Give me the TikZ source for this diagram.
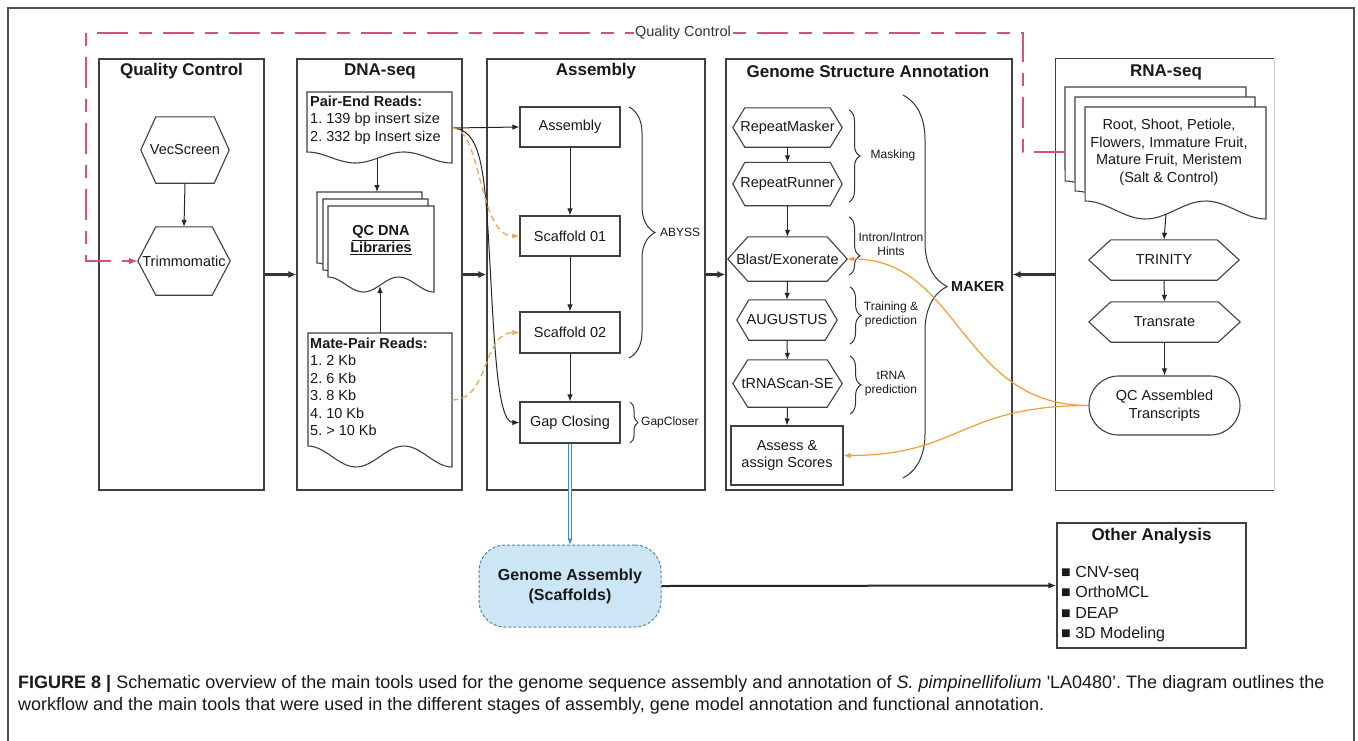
\documentclass[tikz,border=0pt]{standalone}
\usepackage{fontspec}
\setmainfont{Liberation Sans}
\usetikzlibrary{arrows.meta,calc,decorations.pathreplacing,shapes.misc}
\definecolor{pinkq}{RGB}{214,80,126}
\definecolor{orangeA}{RGB}{240,160,50}
\definecolor{orangeD}{RGB}{234,168,85}
\definecolor{blueL}{RGB}{58,140,205}
\definecolor{blobfill}{RGB}{205,230,246}
\definecolor{blobedge}{RGB}{90,130,170}
\definecolor{frameg}{RGB}{80,80,80}
\newcommand\docshape[6]{\draw[#6] (#1,#3) -- (#2,#3) -- (#2,#4) -- plot[domain=1:0,samples=41] ({#1+\x*(#2-#1)},{#4-#5/2-#5/2*cos(540*\x)}) -- cycle;}
\newcommand\hexo[2]{\draw[boxline] (#1.west) -- ($(#1.north west)+(#2,0)$) -- ($(#1.north east)+(-#2,0)$) -- (#1.east) -- ($(#1.south east)+(-#2,0)$) -- ($(#1.south west)+(#2,0)$) -- cycle;}
\frenchspacing
\begin{document}
\begin{tikzpicture}[x=1pt,y=-1pt,
  every node/.style={font=\fontsize{14.5}{17.5}\selectfont, text=black!90},
  boxline/.style={draw=black!75, line width=1.1pt},
  colbox/.style={boxline, rectangle, minimum height=431pt, inner sep=0pt},
  ttl/.style={font=\fontsize{17}{20}\selectfont\bfseries},
  sml/.style={font=\fontsize{12}{14}\selectfont, align=center},
  hexn/.style={inner sep=0pt},
  rbox/.style={boxline, rectangle, inner sep=0pt, minimum width=100pt, align=center},
  docline/.style={draw=black!75, line width=1.1pt, fill=white},
  arr/.style={-{Latex[length=7pt,width=5.5pt]}, line width=1pt, draw=black!85},
  colarr/.style={-{Latex[length=8pt,width=7pt]}, line width=2.4pt, draw=black!80},
  brc/.style={decorate, draw=black!80, line width=1pt},
  odash/.style={-{Latex[length=7pt,width=5.5pt]}, draw=orangeD, line width=1.3pt, dash pattern=on 6pt off 4pt},
  osolid/.style={-{Latex[length=7pt,width=5.5pt]}, draw=orangeA, line width=1.2pt},
  pinkline/.style={draw=pinkq, line width=1.5pt, dash pattern=on 31pt off 11pt on 13pt off 11pt}
]
\useasboundingbox (0,0) rectangle (1358,740);
\fill[white] (0,0) rectangle (1358,740);
\draw[frameg, line width=1.2pt] (8,745) -- (8,8) -- (1354,8) -- (1354,745);

% column boxes
\node[colbox, minimum width=165pt] (qcbox) at (181.5,274.5) {};
\node[colbox, minimum width=165pt] (dnabox) at (379.5,274.5) {};
\node[colbox, minimum width=218pt] (asmbox) at (596,274.5) {};
\node[colbox, minimum width=286pt] (gsabox) at (869,274.5) {};
\node[rectangle, minimum width=218pt, minimum height=431pt, inner sep=0pt] (rnabox) at (1165,274.5) {};
\draw[boxline] (rnabox.north east) -- (rnabox.north west) -- (rnabox.south west) -- (rnabox.south east);
\draw[black!20, line width=1pt] (rnabox.north east) -- (rnabox.south east);

\node[ttl] (t1) at (181.5,71) {Quality Control};
\node[ttl] (t2) at (380,71) {DNA-seq};
\node[ttl] (t3) at (596,71) {Assembly};
\node[ttl] (t4) at (868,71) {Genome Structure Annotation};
\node[ttl] (t5) at (1166,72) {RNA-seq};

% quality control column
\node[hexn, minimum width=88pt, minimum height=66pt] (vec) at (185,150) {VecScreen};
\hexo{vec}{15}
\node[hexn, minimum width=92pt, minimum height=68pt] (trim) at (184,261) {Trimmomatic};
\hexo{trim}{18}
\draw[arr] (vec.south) -- (trim.north);

% DNA-seq column
\docshape{307}{452}{92}{163}{11}{docline}
\node[anchor=west, align=left, inner sep=0pt] (petxt) at (310,120) {\textbf{Pair-End Reads:}\\1. 139 bp insert size\\2. 332 bp Insert size};
\docshape{317}{422}{192}{278}{15}{docline}
\docshape{323}{428}{199}{285}{15}{docline}
\docshape{328}{434}{206}{292}{15}{docline}
\node[align=center, inner sep=0pt, font=\fontsize{14.5}{16.5}\selectfont\bfseries] (qclib) at (381,240) {\underline{QC DNA}\\\underline{Libraries}};
\docshape{308}{452}{333}{467}{21}{docline}
\node[anchor=west, align=left, inner sep=0pt] (mptxt) at (310,387) {\textbf{Mate-Pair Reads:}\\1. 2 Kb\\2. 6 Kb\\3. 8 Kb\\4. 10 Kb\\5. > 10 Kb};
\coordinate (pe) at (452,128);
\coordinate (peb) at (377,159);
\coordinate (qctop) at (377,192);
\coordinate (qcbot) at (380,286);
\coordinate (mptop) at (380,333);
\coordinate (mpr) at (452,400);
\draw[arr] (peb) -- (qctop);
\draw[arr] (mptop) -- (qcbot);

% Assembly column
\node[rbox, minimum height=40pt] (asm) at (570,127) {Assembly};
\node[rbox, minimum height=40pt] (sc1) at (570,236) {Scaffold 01};
\node[rbox, minimum height=41pt] (sc2) at (570,332.5) {Scaffold 02};
\node[rbox, minimum height=41pt] (gap) at (570,422.5) {Gap Closing};
\draw[arr] (asm.south) -- (sc1.north);
\draw[arr] (sc1.south) -- (sc2.north);
\draw[arr] (sc2.south) -- (gap.north);
\draw[brc, decoration={brace, amplitude=26pt}] (629,107) -- (629,358);
\node[sml, anchor=west, inner sep=0pt] (abyss) at (660,232) {ABYSS};
\draw[brc, decoration={brace, amplitude=8pt}] (630,402) -- (630,443);
\node[sml, anchor=west, inner sep=0pt] (gapcl) at (641,422.5) {GapCloser};
\draw[arr] (pe) -- (asm.west);
\draw[arr] (pe) .. controls (480,128) and (484,170) .. (488,230) .. controls (494,330) and (496,422.5) .. (gap.west);
\draw[odash] (pe) .. controls (482,128) and (478,236) .. (sc1.west);
\draw[odash] (mpr) .. controls (490,400) and (482,332.5) .. (sc2.west);

% Genome structure annotation column
\node[hexn, minimum width=109pt, minimum height=39pt] (rm) at (787.5,127.5) {RepeatMasker};
\hexo{rm}{12}
\node[hexn, minimum width=109pt, minimum height=43pt] (rr) at (787.5,184) {RepeatRunner};
\hexo{rr}{12}
\node[hexn, minimum width=119pt, minimum height=44pt] (blast) at (787.5,259) {Blast/Exonerate};
\hexo{blast}{20}
\node[hexn, minimum width=100pt, minimum height=40pt] (aug) at (787,320) {AUGUSTUS};
\hexo{aug}{12}
\node[hexn, minimum width=109pt, minimum height=47pt] (trna) at (787.5,383.5) {tRNAScan-SE};
\hexo{trna}{15}
\node[rbox, minimum width=112pt, minimum height=59pt] (assess) at (787,455.5) {Assess \&\\assign Scores};
\draw[arr] (rm.south) -- (rr.north);
\draw[arr] (rr.south) -- (blast.north);
\draw[arr] (blast.south) -- (aug.north);
\draw[arr] (aug.south) -- (trna.north);
\draw[arr] (trna.south) -- (assess.north);
\draw[brc, decoration={brace, amplitude=11pt}] (849,110) -- (849,202);
\node[sml] (mask) at (893,155) {Masking};
\draw[brc, decoration={brace, amplitude=11pt, aspect=0.67}] (849,217) -- (849,275);
\node[sml] (intron) at (891,244) {Intron/Intron\\Hints};
\draw[brc, decoration={brace, amplitude=11pt}] (850,287) -- (850,344);
\node[sml] (train) at (891,314) {Training \&\\prediction};
\draw[brc, decoration={brace, amplitude=11pt}] (850,356) -- (850,414);
\node[sml] (trnap) at (891,384) {tRNA\\prediction};
\draw[brc, decoration={brace, amplitude=44pt}] (903,95) -- (903,478);
\node[anchor=west, inner sep=0pt, font=\fontsize{14.5}{17}\selectfont\bfseries] (maker) at (951,287) {MAKER};

% RNA-seq column
\docshape{1065}{1246}{87}{199}{18}{docline}
\docshape{1075}{1255}{97}{209}{18}{docline}
\docshape{1085}{1266}{107}{219}{18}{docline}
\node[align=center, inner sep=0pt] (rnatxt) at (1169,152) {Root, Shoot, Petiole,\\Flowers, Immature Fruit,\\Mature Fruit, Meristem\\(Salt \& Control)};
\coordinate (rnab) at (1166,214);
\node[hexn, minimum width=150pt, minimum height=40pt] (trin) at (1164,260) {TRINITY};
\hexo{trin}{22}
\node[hexn, minimum width=151pt, minimum height=40pt] (trans) at (1164.5,322) {Transrate};
\hexo{trans}{22}
\node[boxline, rounded rectangle, minimum width=151pt, minimum height=59pt, inner sep=0pt, align=center] (qca) at (1164.5,405.5) {QC Assembled\\Transcripts};
\draw[arr] (rnab) -- (trin.north);
\draw[arr] (trin.south) -- (trans.north);
\draw[arr] (trans.south) -- (qca.north);

% orange connectors
\draw[osolid] (qca.west) .. controls (960,405.5) and (960,259) .. (blast.east);
\draw[osolid] (qca.west) .. controls (960,405.5) and (960,455.5) .. (assess.east);

% column arrows
\draw[colarr] (qcbox.east) -- (dnabox.west);
\draw[colarr] (dnabox.east) -- (asmbox.west);
\draw[colarr] (asmbox.east) -- (gsabox.west);
\draw[colarr] (rnabox.west) -- (gsabox.east);

% quality control feedback
\coordinate (qcsrc) at (1065,152);
\draw[pinkline, -{Latex[length=9pt,width=7pt]}] (qcsrc) -- (1023,152) -- (1023,33) -- (86,33) -- (86,261) -- (trim.west);
\node[fill=white, inner sep=1.5pt, text=black!80] (qclab) at (683,33) {Quality Control};

% genome assembly and other analysis
\node[rectangle, rounded corners=26pt, minimum width=182pt, minimum height=82pt, fill=blobfill, draw=blobedge, line width=1pt, dash pattern=on 3pt off 2pt, align=center, font=\fontsize{16}{20}\selectfont\bfseries] (ga) at (570,586) {Genome Assembly\\(Scaffolds)};
\draw[draw=blueL, line width=0.9pt, double=white, double distance=2pt, -{Latex[length=6pt,width=5pt]}] (gap.south) -- (ga.north);
\node[boxline, rectangle, minimum width=189pt, minimum height=125pt, inner sep=0pt] (oa) at (1151.5,585.5) {};
\node[font=\fontsize{17}{20}\selectfont\bfseries] (oat) at (1151.5,536) {Other Analysis};
\node[anchor=west, align=left, inner sep=0pt, font=\fontsize{16}{20.3}\selectfont] (oai) at (1061,604) {■ CNV-seq\\■ OrthoMCL\\■ DEAP\\■ 3D Modeling};
\draw[-{Latex[length=8pt,width=6pt]}, line width=2pt, draw=black!85] (ga.east) -- (oa.west);

% caption
\node[anchor=west, inner sep=0pt, font=\fontsize{18}{21}\selectfont] (cap1) at (18,684) {\textbf{FIGURE 8 |} Schematic overview of the main tools used for the genome sequence assembly and annotation of \textit{S. pimpinellifolium} \textquotesingle LA0480'. The diagram outlines the};
\node[anchor=west, inner sep=0pt, font=\fontsize{18}{21}\selectfont] (cap2) at (18,706) {workflow and the main tools that were used in the different stages of assembly, gene model annotation and functional annotation.};
\end{tikzpicture}
\end{document}
